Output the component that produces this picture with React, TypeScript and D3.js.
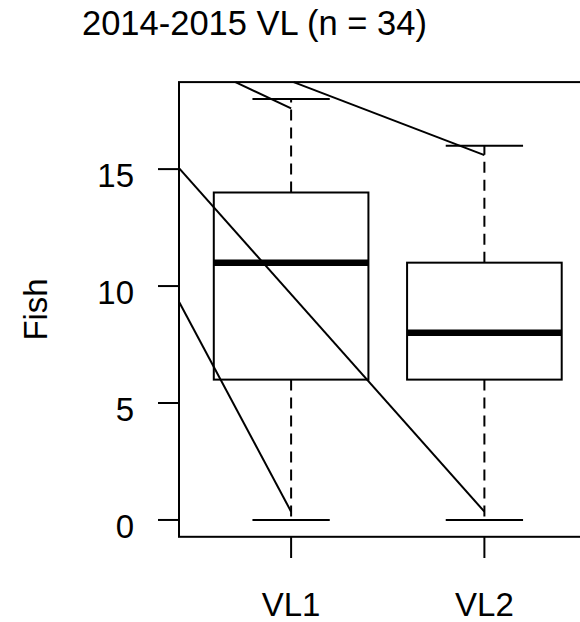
import React from "react";
import * as d3 from "d3";

const categories = ["VL1", "VL2"];
const whiskerLow = [0, 0];
const q1 = [6, 6];
const medians = [11, 8];
const q3 = [14, 11];
const whiskerHigh = [18, 16];
const yTicks = [0, 5, 10, 15];
const titleText = "2014-2015 VL (n = 34)";
const yLabel = "Fish";

// annotation segments (data units: x position index, y value)
const segX1 = [0.712, 1.013, 0.42, 0.42];
const segY1 = [18.72, 18.72, 15.04, 9.33];
const segX2 = [1, 2, 2, 1];
const segY2 = [17.6, 15.6, 0.355, 0.355];

const W = 580;
const H = 622;
const FONT = "'Liberation Sans', Arial, Helvetica, sans-serif";

export default function App() {
  const x = d3.scaleLinear().domain([0.42, 2.58]).range([179, 596.5]);
  const y = d3.scaleLinear().domain([-0.72, 18.72]).range([536.8, 82.1]);
  const boxHalf = 0.4;
  const capHalf = 0.2;
  const fs = 33;
  const line = d3.line<[number, number]>().x((d) => x(d[0])).y((d) => y(d[1]));

  const [x0, x1] = x.range();
  const [y0, y1] = y.range();

  return (
    <svg
      width={W}
      height={H}
      style={{ position: "absolute", left: 0, top: 0, background: "#fff" }}
      fontFamily={FONT}
    >
      <text x={82} y={35} fontSize={34.5} fill="#000">
        {titleText}
      </text>
      <text
        transform={`translate(46.7, ${(y0 + y1) / 2}) rotate(-90)`}
        textAnchor="middle"
        fontSize={fs}
        fill="#000"
      >
        {yLabel}
      </text>

      {categories.map((c, i) => {
        const cx = x(i + 1);
        return (
          <g key={c}>
            <line
              x1={cx}
              x2={cx}
              y1={y(q3[i])}
              y2={y(whiskerHigh[i])}
              stroke="#000"
              strokeWidth={2}
              strokeDasharray="11,7"
            />
            <line
              x1={cx}
              x2={cx}
              y1={y(q1[i])}
              y2={y(whiskerLow[i])}
              stroke="#000"
              strokeWidth={2}
              strokeDasharray="11,7"
            />
            <line
              x1={x(i + 1 - capHalf)}
              x2={x(i + 1 + capHalf)}
              y1={y(whiskerHigh[i])}
              y2={y(whiskerHigh[i])}
              stroke="#000"
              strokeWidth={2}
            />
            <line
              x1={x(i + 1 - capHalf)}
              x2={x(i + 1 + capHalf)}
              y1={y(whiskerLow[i])}
              y2={y(whiskerLow[i])}
              stroke="#000"
              strokeWidth={2}
            />
            <rect
              x={x(i + 1 - boxHalf)}
              y={y(q3[i])}
              width={x(i + 1 + boxHalf) - x(i + 1 - boxHalf)}
              height={y(q1[i]) - y(q3[i])}
              fill="none"
              stroke="#000"
              strokeWidth={2}
            />
            <line
              x1={x(i + 1 - boxHalf)}
              x2={x(i + 1 + boxHalf)}
              y1={y(medians[i])}
              y2={y(medians[i])}
              stroke="#000"
              strokeWidth={6.5}
            />
          </g>
        );
      })}

      {segX1.map((_, k) => (
        <path
          key={k}
          d={line([
            [segX1[k], segY1[k]],
            [segX2[k], segY2[k]],
          ]) || ""}
          fill="none"
          stroke="#000"
          strokeWidth={2}
        />
      ))}

      <rect
        x={x0}
        y={y1}
        width={x1 - x0}
        height={y0 - y1}
        fill="none"
        stroke="#000"
        strokeWidth={2}
      />

      {yTicks.map((t) => (
        <g key={t}>
          <line x1={158} x2={x0} y1={y(t)} y2={y(t)} stroke="#000" strokeWidth={2} />
          <text x={134} y={y(t) + 17.7} textAnchor="end" fontSize={fs} fill="#000">
            {t}
          </text>
        </g>
      ))}

      {categories.map((c, i) => (
        <g key={c}>
          <line
            x1={x(i + 1)}
            x2={x(i + 1)}
            y1={y0}
            y2={558}
            stroke="#000"
            strokeWidth={2}
          />
          <text x={x(i + 1)} y={615.7} textAnchor="middle" fontSize={fs} fill="#000">
            {c}
          </text>
        </g>
      ))}
    </svg>
  );
}
